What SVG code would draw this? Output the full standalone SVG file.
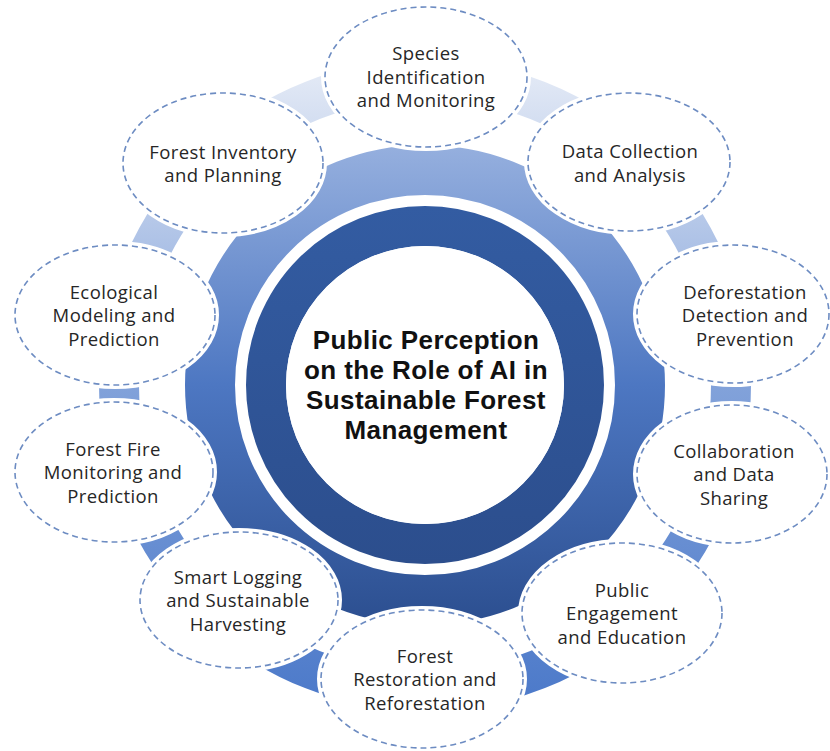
<svg xmlns="http://www.w3.org/2000/svg" width="830" height="751" viewBox="0 0 830 751">
  <defs>
    <linearGradient id="ringGrad" gradientUnits="userSpaceOnUse" x1="0" y1="79" x2="0" y2="691">
      <stop offset="0" stop-color="#E1E8F5"/>
      <stop offset="0.5" stop-color="#82A2DA"/>
      <stop offset="1" stop-color="#4E7BCA"/>
    </linearGradient>
    <linearGradient id="gearGrad" gradientUnits="userSpaceOnUse" x1="0" y1="147" x2="0" y2="623">
      <stop offset="0" stop-color="#95AFDE"/>
      <stop offset="0.5" stop-color="#4D77C2"/>
      <stop offset="1" stop-color="#2C4F90"/>
    </linearGradient>
    <linearGradient id="coreGrad" gradientUnits="userSpaceOnUse" x1="0" y1="206" x2="0" y2="564">
      <stop offset="0" stop-color="#335CA2"/>
      <stop offset="1" stop-color="#2C4E8D"/>
    </linearGradient>
  </defs>
  <style>
    .halo { fill: #FFFFFF; stroke: #FFFFFF; stroke-width: 8; }
    .node { fill: #FFFFFF; stroke: #6D8CC2; stroke-width: 1.6; stroke-dasharray: 6 4; }
    .lbl { font-family: "Open Sans", "Noto Sans", "Liberation Sans", sans-serif; font-size: 18.5px; letter-spacing: 0.4px; fill: #262626; text-anchor: middle; }
    .title { font-family: "Liberation Sans", Arial, sans-serif; font-size: 26px; font-weight: bold; letter-spacing: 0.4px; fill: #111111; text-anchor: middle; }
  </style>
  <rect width="830" height="751" fill="#FFFFFF"/>

  <g id="connectors">
    <circle cx="425" cy="385" r="306" fill="none" stroke="url(#ringGrad)" stroke-width="40"/>
  </g>

  <g id="center">
    <circle cx="425" cy="385" r="215" fill="none" stroke="url(#gearGrad)" stroke-width="50"/>
    <circle cx="425" cy="385" r="159" fill="none" stroke="url(#coreGrad)" stroke-width="40"/>
    <circle cx="425" cy="385" r="139" fill="#FFFFFF"/>
    <text class="title" x="426" y="349">Public Perception</text>
    <text class="title" x="426" y="379">on the Role of AI in</text>
    <text class="title" x="426" y="409">Sustainable Forest</text>
    <text class="title" x="426" y="439">Management</text>
  </g>

  <g id="n-species">
    <ellipse class="halo" cx="426" cy="77" rx="101" ry="70"/>
    <ellipse class="node" cx="426" cy="77" rx="101" ry="70"/>
    <text class="lbl" x="426" y="60">Species</text>
    <text class="lbl" x="426" y="83.5">Identification</text>
    <text class="lbl" x="426" y="107">and Monitoring</text>
  </g>

  <g id="n-data">
    <ellipse class="halo" cx="629" cy="162" rx="101" ry="69"/>
    <ellipse class="node" cx="629" cy="162" rx="101" ry="69"/>
    <text class="lbl" x="630" y="158">Data Collection</text>
    <text class="lbl" x="630" y="182">and Analysis</text>
  </g>

  <g id="n-deforestation">
    <ellipse class="halo" cx="733" cy="314" rx="96" ry="69"/>
    <ellipse class="node" cx="733" cy="314" rx="96" ry="69"/>
    <text class="lbl" x="745" y="298.5">Deforestation</text>
    <text class="lbl" x="745" y="322">Detection and</text>
    <text class="lbl" x="745" y="345.5">Prevention</text>
  </g>

  <g id="n-collaboration">
    <ellipse class="halo" cx="732" cy="474" rx="95" ry="69"/>
    <ellipse class="node" cx="732" cy="474" rx="95" ry="69"/>
    <text class="lbl" x="734" y="457.5">Collaboration</text>
    <text class="lbl" x="734" y="481">and Data</text>
    <text class="lbl" x="734" y="504.5">Sharing</text>
  </g>

  <g id="n-public">
    <ellipse class="halo" cx="622" cy="613" rx="100" ry="70"/>
    <ellipse class="node" cx="622" cy="613" rx="100" ry="70"/>
    <text class="lbl" x="622" y="596.5">Public</text>
    <text class="lbl" x="622" y="620">Engagement</text>
    <text class="lbl" x="622" y="643.5">and Education</text>
  </g>

  <g id="n-restoration">
    <ellipse class="halo" cx="422" cy="679" rx="101" ry="69"/>
    <ellipse class="node" cx="422" cy="679" rx="101" ry="69"/>
    <text class="lbl" x="425" y="662.5">Forest</text>
    <text class="lbl" x="425" y="686">Restoration and</text>
    <text class="lbl" x="425" y="709.5">Reforestation</text>
  </g>

  <g id="n-smart">
    <ellipse class="halo" cx="239" cy="600" rx="99" ry="68"/>
    <ellipse class="node" cx="239" cy="600" rx="99" ry="68"/>
    <text class="lbl" x="238" y="583.5">Smart Logging</text>
    <text class="lbl" x="238" y="607">and Sustainable</text>
    <text class="lbl" x="238" y="630.5">Harvesting</text>
  </g>

  <g id="n-fire">
    <ellipse class="halo" cx="114" cy="472" rx="99" ry="70"/>
    <ellipse class="node" cx="114" cy="472" rx="99" ry="70"/>
    <text class="lbl" x="113" y="455.5">Forest Fire</text>
    <text class="lbl" x="113" y="479">Monitoring and</text>
    <text class="lbl" x="113" y="502.5">Prediction</text>
  </g>

  <g id="n-ecological">
    <ellipse class="halo" cx="115" cy="315" rx="100" ry="70"/>
    <ellipse class="node" cx="115" cy="315" rx="100" ry="70"/>
    <text class="lbl" x="114" y="298.5">Ecological</text>
    <text class="lbl" x="114" y="322">Modeling and</text>
    <text class="lbl" x="114" y="345.5">Prediction</text>
  </g>

  <g id="n-inventory">
    <ellipse class="halo" cx="223" cy="163" rx="100" ry="70"/>
    <ellipse class="node" cx="223" cy="163" rx="100" ry="70"/>
    <text class="lbl" x="223" y="158.5">Forest Inventory</text>
    <text class="lbl" x="223" y="182">and Planning</text>
  </g>
</svg>
